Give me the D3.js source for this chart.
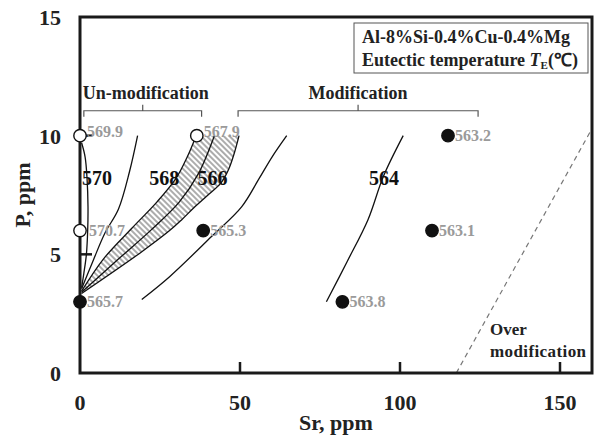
<html lang="en">
<head>
<meta charset="utf-8">
<title>Eutectic temperature map</title>
<script src="https://d3js.org/d3.v7.min.js" charset="utf-8"></script>
<style>
  body { margin: 0; background: #fff; }
  svg text { font-family: "Liberation Serif", "Times New Roman", serif; font-weight: bold; }
</style>
</head>
<body>
<script>
// axis ticks
var xTicks = [0, 50, 100, 150];
var yTicks = [0, 5, 10, 15];

// measured alloys: Sr, P (ppm) and eutectic temperature
var pointSr = [0, 0, 36.5, 0, 38.5, 82, 110, 115];
var pointP = [10, 6, 10, 3, 6, 3, 6, 10];
var pointTE = ["569.9", "570.7", "567.9", "565.7", "565.3", "563.8", "563.1", "563.2"];
var pointOpen = [true, true, true, false, false, false, false, false];

// iso-temperature lines [Sr, P]
var line570 = [[0.5, 9.7], [1.6, 9.1], [2.2, 8.2], [2.5, 7], [2.4, 6], [2, 5], [1.2, 4.2], [0.5, 3.6]];
var line569 = [[18, 10], [15.5, 8.5], [12, 6.9], [7.8, 5.9], [4, 4.7], [0.5, 3.55]];
var line568 = [[0.5, 3.45], [7.3, 4.8], [16.2, 6.1], [24, 7.2], [30, 8.2], [33.5, 9.1], [36.3, 10]];
var line567 = [[0.5, 3.4], [12, 4.8], [22, 6.0], [31, 7.2], [37, 8.4], [42, 10]];
var line566 = [[0.5, 3.35], [18.8, 5.06], [28, 6.0], [31.8, 6.46], [35.5, 6.95], [40, 7.5], [44, 8.0], [46.5, 8.6], [48.3, 9.3], [49.7, 10]];
var line565 = [[19.3, 3.1], [28, 4.06], [41.1, 5.75], [50.5, 7.0], [56, 8.2], [60, 9.1], [64.6, 10]];
var line564 = [[77, 3], [83.5, 4.7], [90, 6.46], [94.8, 8.28], [101, 10]];
var overLine = [[117.6, 0], [160, 10.3]];

// contour labels
var contourText = ["570", "568", "566", "564"];
var contourSr = [5.3, 26.3, 41.4, 95];
var contourP = [7.93, 7.93, 7.93, 7.93];

// range brackets
var bracketText = ["Un-modification", "Modification"];
var bracketFrom = [1.2, 49.4];
var bracketTo = [38, 124.4];
var bracketP = 11.05;

var width = 595, height = 436;

var svg = d3.select("body").append("svg")
    .attr("width", width)
    .attr("height", height);

var x = d3.scaleLinear().domain([0, 160]).range([80, 592]);
var y = d3.scaleLinear().domain([0, 15]).range([373, 17]);

var line = d3.line()
    .x(function(d) { return x(d[0]); })
    .y(function(d) { return y(d[1]); })
    .curve(d3.curveCatmullRom.alpha(0.5));

// hatch pattern for the 566-568 band
var pat = svg.append("defs").append("pattern")
    .attr("id", "hatch")
    .attr("patternUnits", "userSpaceOnUse")
    .attr("width", 4).attr("height", 4)
    .attr("patternTransform", "rotate(-45)");
pat.append("line")
    .attr("x1", 2).attr("y1", 0).attr("x2", 2).attr("y2", 4)
    .attr("stroke", "#a3a3a3").attr("stroke-width", 1.8);

var band = line(line568) + line(line566.slice().reverse()).replace("M", "L") + "Z";
svg.append("path")
    .attr("d", band)
    .attr("fill", "url(#hatch)");

// ticks inside the frame
var g = svg.append("g");
g.selectAll(".xt").data(xTicks.slice(1)).enter().append("line")
    .attr("x1", function(d) { return x(d); }).attr("x2", function(d) { return x(d); })
    .attr("y1", y(0)).attr("y2", y(0) - 11)
    .attr("stroke", "#1a1a1a").attr("stroke-width", 2.5);
g.selectAll(".yt").data([5, 10]).enter().append("line")
    .attr("x1", x(0)).attr("x2", x(0) + 12)
    .attr("y1", function(d) { return y(d); }).attr("y2", function(d) { return y(d); })
    .attr("stroke", "#1a1a1a").attr("stroke-width", 2.5);

// iso lines
[line570, line569, line568, line567, line566, line565, line564].forEach(function(l) {
    svg.append("path")
        .attr("d", line(l))
        .attr("fill", "none")
        .attr("stroke", "#111")
        .attr("stroke-width", 1.3);
});

svg.append("path")
    .attr("d", d3.line().x(function(d) { return x(d[0]); }).y(function(d) { return y(d[1]); })(overLine))
    .attr("fill", "none")
    .attr("stroke", "#777")
    .attr("stroke-width", 1.2)
    .attr("stroke-dasharray", "5,4");

// frame
svg.append("rect")
    .attr("x", x(0)).attr("y", y(15))
    .attr("width", x(160) - x(0)).attr("height", y(0) - y(15))
    .attr("fill", "none")
    .attr("stroke", "#1a1a1a")
    .attr("stroke-width", 3);

// tick labels
svg.selectAll(".xl").data(xTicks).enter().append("text")
    .attr("x", function(d) { return x(d); })
    .attr("y", y(0) + 37)
    .attr("text-anchor", "middle")
    .attr("font-size", 22)
    .attr("fill", "#222")
    .text(function(d) { return d; });
svg.selectAll(".yl").data(yTicks).enter().append("text")
    .attr("x", x(0) - 19)
    .attr("y", function(d) { return y(d) + 8; })
    .attr("text-anchor", "end")
    .attr("font-size", 22)
    .attr("fill", "#222")
    .text(function(d) { return d; });

// axis titles
svg.append("text")
    .attr("x", (x(0) + x(160)) / 2)
    .attr("y", 430)
    .attr("text-anchor", "middle")
    .attr("font-size", 22)
    .attr("fill", "#222")
    .text("Sr, ppm");
svg.append("text")
    .attr("transform", "translate(30," + (y(0) + y(15)) / 2 + ") rotate(-90)")
    .attr("text-anchor", "middle")
    .attr("font-size", 22)
    .attr("fill", "#222")
    .text("P, ppm");

// brackets
bracketText.forEach(function(t, i) {
    var x0 = x(bracketFrom[i]), x1 = x(bracketTo[i]), yb = y(bracketP);
    var xm = (x0 + x1) / 2;
    svg.append("path")
        .attr("d", "M" + x0 + "," + (yb + 6) + "V" + yb + "H" + x1 + "V" + (yb + 6) +
                   "M" + xm + "," + yb + "V" + (yb - 6))
        .attr("fill", "none")
        .attr("stroke", "#555")
        .attr("stroke-width", 1.2);
    svg.append("text")
        .attr("x", xm + (i == 0 ? 3 : 0))
        .attr("y", yb - 12)
        .attr("text-anchor", "middle")
        .attr("font-size", 18)
        .attr("fill", "#222")
        .text(t);
});

// contour labels
svg.selectAll(".cl").data(contourText).enter().append("text")
    .attr("x", function(d, i) { return x(contourSr[i]); })
    .attr("y", function(d, i) { return y(contourP[i]); })
    .attr("text-anchor", "middle")
    .attr("font-size", 20)
    .attr("fill", "#111")
    .text(function(d) { return d; });

// points
svg.selectAll(".pt").data(pointSr).enter().append("circle")
    .attr("cx", function(d) { return x(d); })
    .attr("cy", function(d, i) { return y(pointP[i]); })
    .attr("r", 6.2)
    .attr("fill", function(d, i) { return pointOpen[i] ? "#fff" : "#111"; })
    .attr("stroke", "#111")
    .attr("stroke-width", 1.4);

svg.selectAll(".pl").data(pointTE).enter().append("text")
    .attr("x", function(d, i) { return x(pointSr[i]) + (pointSr[i] == 0 && pointP[i] == 6 ? 9 : 7); })
    .attr("y", function(d, i) {
        // labels of the open points on the 10 ppm line sit a little higher
        var lift = (pointOpen[i] && pointP[i] == 10) ? 4 : 0;
        return y(pointP[i]) + 5.5 - lift;
    })
    .attr("font-size", 16)
    .attr("fill", "#9a9a9a")
    .text(function(d) { return d; });

// over modification note
var om = svg.append("text")
    .attr("x", 490)
    .attr("font-size", 17)
    .attr("fill", "#222");
om.append("tspan").attr("x", 490).attr("y", 335).text("Over");
om.append("tspan").attr("x", 490).attr("y", 357).attr("letter-spacing", 0.4).text("modification");

// info box
svg.append("rect")
    .attr("x", 354).attr("y", 23)
    .attr("width", 234).attr("height", 50)
    .attr("fill", "#fff")
    .attr("stroke", "#555")
    .attr("stroke-width", 1);
svg.append("text")
    .attr("x", 362).attr("y", 43)
    .attr("font-size", 18)
    .attr("fill", "#222")
    .text("Al-8%Si-0.4%Cu-0.4%Mg");
var t2 = svg.append("text")
    .attr("x", 362).attr("y", 66)
    .attr("font-size", 18)
    .attr("fill", "#222");
t2.append("tspan").text("Eutectic temperature ");
t2.append("tspan").attr("font-style", "italic").text("T");
t2.append("tspan").attr("font-size", 11).attr("dy", 3).text("E");
t2.append("tspan").attr("dy", -3).text("(℃)");
</script>
</body>
</html>
